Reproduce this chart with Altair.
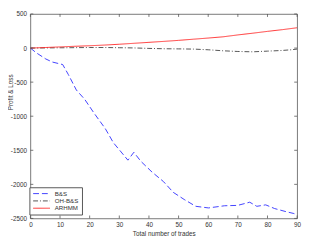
import altair as alt
import pandas as pd

# ---- data ----
bs_x = [0, 2, 5.2, 7.4, 10.9, 12.8, 15.5, 18.3, 21.5, 25.3, 28, 30.2, 32.9, 34.9,
        37.3, 41.1, 44.9, 48.2, 51.9, 55.8, 60.1, 65.5, 69.9, 74, 76.4, 79.4, 82.4, 86.2, 88.9, 90]
bs_y = [0, -70, -160, -205, -242, -388, -615, -751, -956, -1184, -1389, -1503, -1645, -1530,
        -1663, -1822, -1959, -2117, -2222, -2322, -2346, -2314, -2309, -2262, -2322, -2301, -2355, -2400, -2428, -2445]

oh_x = [0, 5, 10, 15, 20, 25, 30, 35, 40, 45, 50, 55, 60, 65, 70, 75, 80, 85, 88, 90]
oh_y = [0, 2, 4, 6, 8, 8, 5, 2, -5, -10, -12, -15, -25, -40, -50, -55, -45, -35, -25, -15]

ar_x = [0, 5, 10, 15, 20, 25, 30, 35, 40, 45, 50, 55, 60, 65, 70, 75, 80, 85, 90]
ar_y = [0, 8, 17, 26, 34, 44, 56, 70, 84, 98, 113, 130, 147, 165, 193, 218, 245, 270, 298]

series_names = ["B&S", "OH-B&S", "ARHMM"]
series_colors = ["#2b2bff", "#404040", "#ff2020"]
series_dash = [[6, 3], [5, 2, 1, 2], [1, 0]]

x_ticks = [0, 10, 20, 30, 40, 50, 60, 70, 80, 90]
y_ticks = [-2500, -2000, -1500, -1000, -500, 0, 500]

W, H = 274, 210

rows = []
for name, xs, ys in [("B&S", bs_x, bs_y), ("OH-B&S", oh_x, oh_y), ("ARHMM", ar_x, ar_y)]:
    for i, (a, b) in enumerate(zip(xs, ys)):
        rows.append({"x": a, "y": b, "series": name, "order": i})
df = pd.DataFrame(rows)

xsc = alt.Scale(domain=[0, 90], nice=False, zero=False)
ysc = alt.Scale(domain=[-2500, 500], nice=False, zero=False)

x_axis = alt.Axis(values=x_ticks, title="Total number of trades",
                  labelOverlap=False, labelFlush=False)
y_axis = alt.Axis(values=y_ticks, title="Profit & Loss",
                  labelOverlap=False, labelFlush=False,
                  labelExpr="'' + datum.value",
                  titleX=-17, titleY=80, titleBaseline="bottom",
                  titleAngle=270, titleAlign="center")
x_enc = alt.X("x:Q", scale=xsc, axis=x_axis)
y_enc = alt.Y("y:Q", scale=ysc, axis=y_axis)

lines = alt.Chart(df).mark_line(strokeWidth=0.9, clip=True).encode(
    x=x_enc,
    y=y_enc,
    color=alt.Color("series:N", scale=alt.Scale(domain=series_names, range=series_colors), title=None),
    strokeDash=alt.StrokeDash("series:N", scale=alt.Scale(domain=series_names, range=series_dash), title=None),
    order="order:Q",
)

xt = pd.DataFrame({"x": x_ticks})
yt = pd.DataFrame({"y": y_ticks})
tick_col = "#555555"
bot = alt.Chart(xt).mark_rule(color=tick_col, strokeWidth=0.8).encode(
    x=x_enc, y=alt.value(H), y2=alt.value(H - 3))
top = alt.Chart(xt).mark_rule(color=tick_col, strokeWidth=0.8).encode(
    x=x_enc, y=alt.value(0), y2=alt.value(3))
lef = alt.Chart(yt).mark_rule(color=tick_col, strokeWidth=0.8).encode(
    y=y_enc, x=alt.value(0), x2=alt.value(3))
rig = alt.Chart(yt).mark_rule(color=tick_col, strokeWidth=0.8).encode(
    y=y_enc, x=alt.value(W), x2=alt.value(W - 3))

chart = alt.layer(lines, bot, top, lef, rig).properties(
    width=W, height=H,
    autosize=alt.AutoSizeParams(type="none"),
    padding={"left": 23, "top": 3, "right": 5, "bottom": 19},
).configure_view(
    stroke=tick_col, strokeWidth=0.8
).configure_axis(
    domain=False, ticks=False, grid=False, labelOverlap=False,
    labelFont="Liberation Sans", titleFont="Liberation Sans",
    labelFontSize=6.5, titleFontSize=6.5, titleFontWeight="normal",
    labelColor="#333333", titleColor="#333333",
).configure_axisX(
    labelPadding=3, titlePadding=3,
).configure_axisY(
    labelPadding=4,
).configure_legend(
    orient="none", legendX=-1, legendY=178,
    strokeColor="#555555", fillColor="white", padding=3,
    symbolType="stroke", symbolSize=300, symbolStrokeWidth=0.9,
    labelFont="Liberation Sans", labelFontSize=6.3, labelColor="#333333",
    rowPadding=0.5, clipHeight=7, labelOffset=4, cornerRadius=0,
)

chart.save("out.html", embed_options={"renderer": "svg", "actions": False})
